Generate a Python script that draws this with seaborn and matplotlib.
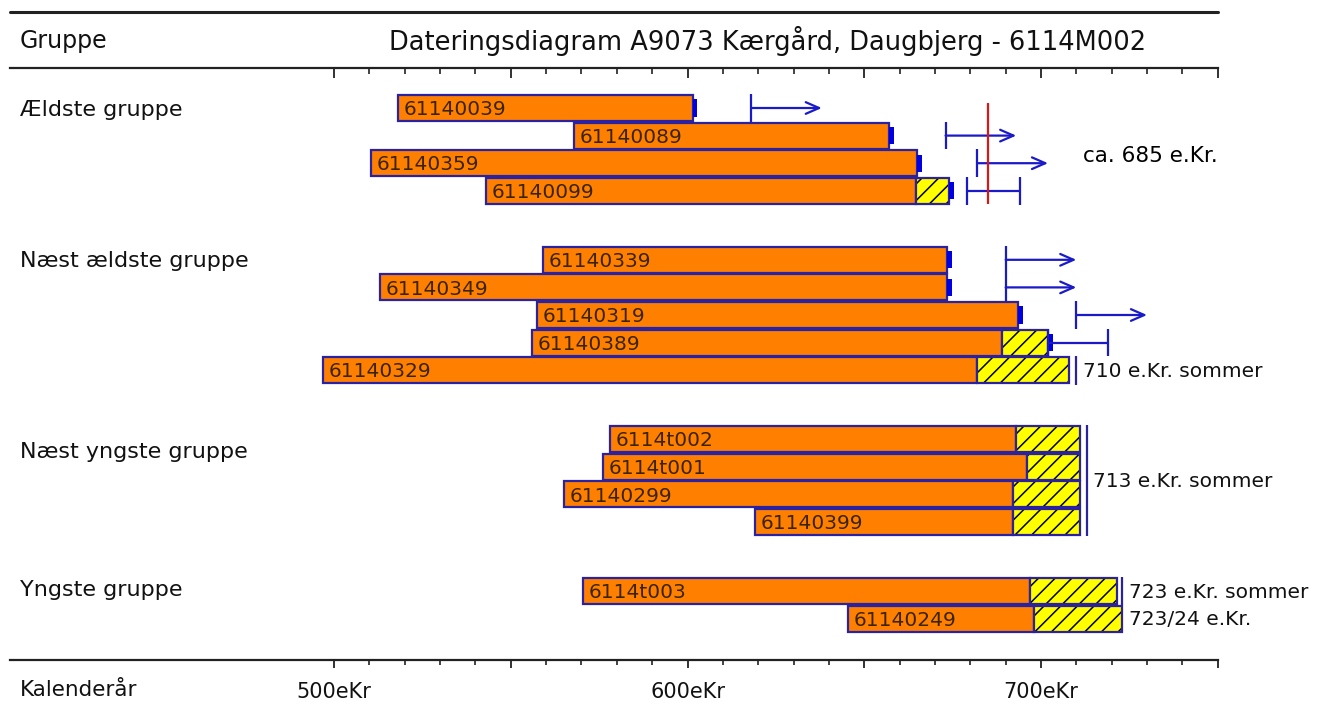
import numpy as np
import matplotlib
matplotlib.use("Agg")
import matplotlib.pyplot as plt
import seaborn as sns

nan = np.nan

# ---------------- data ----------------
samples = ["61140039", "61140089", "61140359", "61140099",
           "61140339", "61140349", "61140319", "61140389", "61140329",
           "6114t002", "6114t001", "61140299", "61140399",
           "6114t003", "61140249"]
group_of = [0, 0, 0, 0, 1, 1, 1, 1, 1, 2, 2, 2, 2, 3, 3]
group_names = ["Ældste gruppe", "Næst ældste gruppe", "Næst yngste gruppe", "Yngste gruppe"]

start_year = [518, 568, 510.5, 543, 559, 513, 557.5, 556, 497, 578, 576, 565, 619, 570.5, 645.5]
heart_end = [601.5, 657, 665, 664.5, 673.5, 673.5, 693.5, 689, 682, 693, 696, 692, 692, 697, 698]
sap_end = [nan, nan, nan, 674, nan, nan, nan, 702, 708, 711, 711, 711, 711, 721.5, 723]
has_end_mark = [1, 1, 1, 1, 1, 1, 1, 1, 0, 0, 0, 0, 0, 0, 0]

arrow_from = [618, 673, 682, nan, 690, 690, 710, nan, nan, nan, nan, nan, nan, nan, nan]
arrow_to = [638, 693, 702, nan, 710, 710, 730, nan, nan, nan, nan, nan, nan, nan, nan]
range_from = [nan, nan, nan, 679, nan, nan, nan, 702, nan, nan, nan, nan, nan, nan, nan]
range_to = [nan, nan, nan, 694, nan, nan, nan, 719, nan, nan, nan, nan, nan, nan, nan]

felling_year = [710, 713, 723]
felling_first = [8, 9, 13]
felling_last = [8, 12, 13]

estimate_year = 685
estimate_label = "ca. 685 e.Kr."
date_labels = ["710 e.Kr. sommer", "713 e.Kr. sommer", "723 e.Kr. sommer", "723/24 e.Kr."]
date_label_years = [710, 713, 723, 723]
date_label_rows = [8, 10.5, 13, 14]

tick_years = [500, 600, 700]
tick_labels = ["500eKr", "600eKr", "700eKr"]
title = "Dateringsdiagram A9073 Kærgård, Daugbjerg - 6114M002"

# ---------------- style ----------------
sns.set_theme(style="white")
plt.rcParams["font.family"] = ["DejaVu Sans"]
plt.rcParams["hatch.linewidth"] = 1.1

W, H = 1317, 710
fig = plt.figure(figsize=(W / 100, H / 100), dpi=100)
ax_left_px, ax_right_px, ax_top_px, ax_bot_px = 10, 1217.75, 68, 660
ax = fig.add_axes([ax_left_px / W, (H - ax_bot_px) / H,
                   (ax_right_px - ax_left_px) / W, (ax_bot_px - ax_top_px) / H])

px_per_year = 3.535
x_right = 750
x_left = x_right - (ax_right_px - ax_left_px) / px_per_year
row_px = 27.6
first_row_px = 108
ax.set_xlim(x_left, x_right)
ax.set_ylim((ax_bot_px - first_row_px) / row_px, (ax_top_px - first_row_px) / row_px)

ORANGE = "#FF8000"
EDGE = "#2a22a0"
BLUE = "#1a1ac8"
TXT = "#3a2400"
LABEL_FONT = ["DejaVu Sans"]
group_label_offset = [0.08, 0.05, 0.45, -0.05]

n = len(samples)
pos = np.array([i + 1.5 * g for i, g in enumerate(group_of)])
start = np.array(start_year, float)
hend = np.array(heart_end, float)
send = np.array(sap_end, float)
bh = 0.94

# heartwood bars
ax.barh(pos, hend - start, left=start, height=bh, color=ORANGE,
        edgecolor=EDGE, linewidth=1.6, zorder=3)
# sapwood (hatched) bars
m = ~np.isnan(send)
ax.barh(pos[m], send[m] - hend[m], left=hend[m], height=bh, color="#FFFF00",
        edgecolor="black", linewidth=0, hatch="//", zorder=3)
ax.barh(pos[m], send[m] - hend[m], left=hend[m], height=bh, color="none",
        edgecolor=EDGE, linewidth=1.6, zorder=4)

# end marks
for i in range(n):
    if has_end_mark[i]:
        e = send[i] if not np.isnan(send[i]) else hend[i]
        ax.barh(pos[i], 1.3, left=e, height=0.62, color="#0000e0",
                linewidth=0, zorder=5)

# sample labels
for i in range(n):
    ax.text(start[i] + 1.6, pos[i] + 0.06, samples[i], fontsize=14.5,
            family=LABEL_FONT, color=TXT, va="center", ha="left", zorder=6)

# arrows (open-ended dating)
for i in range(n):
    if not np.isnan(arrow_from[i]):
        ax.vlines(arrow_from[i], pos[i] - 0.5, pos[i] + 0.5, color=BLUE, lw=1.6, zorder=5)
        ax.annotate("", xy=(arrow_to[i], pos[i]), xytext=(arrow_from[i], pos[i]),
                    arrowprops=dict(arrowstyle="->,head_length=0.8,head_width=0.35",
                                    color=BLUE, lw=1.6, shrinkA=0, shrinkB=0),
                    zorder=5)
    if not np.isnan(range_from[i]):
        ax.hlines(pos[i], range_from[i], range_to[i], color=BLUE, lw=1.6, zorder=5)
        ax.vlines([range_from[i], range_to[i]], pos[i] - 0.5, pos[i] + 0.5,
                  color=BLUE, lw=1.6, zorder=5)

# felling-date lines
for fy, a, b in zip(felling_year, felling_first, felling_last):
    ax.vlines(fy, pos[a] - 0.52, pos[b] + 0.52, color=EDGE, lw=1.6, zorder=5)

# estimate (red line)
ax.vlines(estimate_year, pos[0] - 0.18, pos[3] + 0.47, color="#d81818", lw=1.6, zorder=6)
ax.text(711.9, (pos[1] + pos[2]) / 2 + 0.25, estimate_label, fontsize=15.5,
        color="black", va="center", ha="left")

for lab, yr, r in zip(date_labels, date_label_years, date_label_rows):
    ax.text(yr + 1.8, np.interp(r, np.arange(n), pos) + 0.05,
            lab, fontsize=14.5, family=LABEL_FONT, color="#111111",
            va="center", ha="left", clip_on=False)

# group labels
ytr = ax.get_yaxis_transform()
for g, name in enumerate(group_names):
    first = group_of.index(g)
    ax.text((20 - ax_left_px) / (ax_right_px - ax_left_px), pos[first] + group_label_offset[g],
            name, transform=ytr, fontsize=16, color="#111111", va="center", ha="left")

# axes / ticks
for s in ["left", "right"]:
    ax.spines[s].set_visible(False)
for s in ["top", "bottom"]:
    ax.spines[s].set_linewidth(1.6)
    ax.spines[s].set_color("#222222")
ax.set_yticks([])
major = np.arange(500, 751, 50)
ax.set_xticks(major)
ax.set_xticklabels([tick_labels[tick_years.index(t)] if t in tick_years else "" for t in major])
ax.set_xticks(np.arange(500, 751, 10), minor=True)
ax.tick_params(axis="x", which="major", direction="out", length=5.5, width=1.3,
               color="#222222", pad=10, labelsize=15, labelcolor="#111111",
               bottom=True, top=False)
ax.tick_params(axis="x", which="minor", direction="out", length=3.5, width=1.2,
               color="#222222", bottom=True, top=False)

sec = ax.secondary_xaxis("top")
sec.set_xticks(major)
sec.set_xticklabels([])
sec.set_xticks(np.arange(500, 751, 10), minor=True)
sec.tick_params(axis="x", which="major", direction="in", length=7, width=1.3, color="#222222")
sec.tick_params(axis="x", which="minor", direction="in", length=4, width=1.2, color="#222222")
sec.spines["top"].set_visible(False)

# header
top_y = (ax_bot_px - 12) / (ax_bot_px - ax_top_px)
ax.plot([0, 1], [top_y, top_y], transform=ax.transAxes, color="#222222", lw=2.2, clip_on=False)
fig.text(20 / W, 1 - 41 / H, "Gruppe", fontsize=17, color="#111111", va="center", ha="left")
fig.text(768 / W, 1 - 41 / H, title, fontsize=18.5, color="#111111", va="center", ha="center")
fig.text(20 / W, 1 - 690 / H, "Kalenderår", fontsize=15.5, color="#111111", va="center", ha="left")

fig.savefig("out.png", dpi=100, facecolor="white")
